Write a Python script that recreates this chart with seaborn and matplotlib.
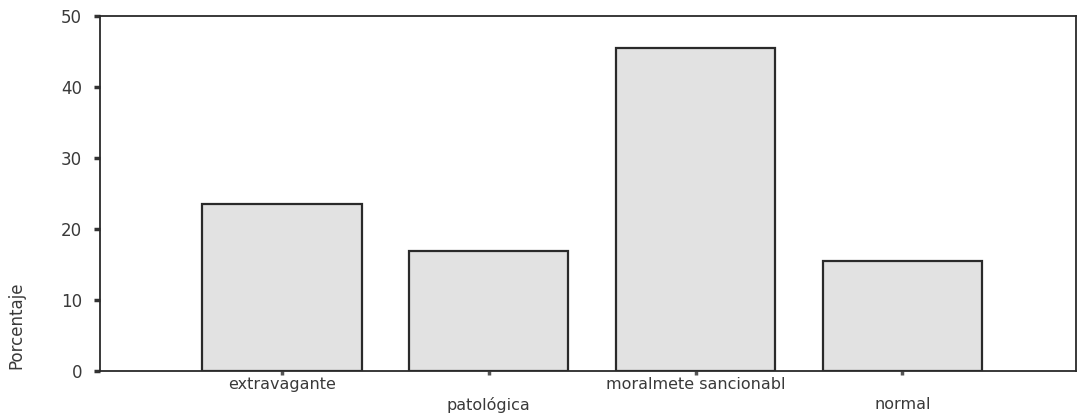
import matplotlib
matplotlib.use("Agg")
import matplotlib.pyplot as plt
import seaborn as sns
import pandas as pd

# data
categorias = ["extravagante", "patológica", "moralmete sancionabl", "normal"]
porcentaje = [23.5, 16.9, 45.4, 15.5]
yticks = [0, 10, 20, 30, 40, 50]

df = pd.DataFrame({"cat": categorias, "pct": porcentaje})

sns.set_style("white")
plt.rcParams['font.family'] = ['DejaVu Sans']
txt = "#3a3a3a"

fig = plt.figure(figsize=(10.77, 4.16), dpi=100)
ax = fig.add_axes([0.093, 0.108, 0.906, 0.854])

sns.barplot(data=df, x="cat", y="pct", color="#e2e2e2", edgecolor="#2a2a2a",
            linewidth=1.6, width=0.77, saturation=1, ax=ax)

ax.set_xlim(-0.88, 3.84)
ax.set_ylim(0, 50)
ax.set_yticks(yticks)
ax.set_yticklabels([str(v) for v in yticks], fontsize=12, color=txt)

# staggered category labels (every second one on a lower line)
labs = [c if i % 2 == 0 else "\n" + c for i, c in enumerate(categorias)]
ax.set_xticks(range(len(categorias)))
ax.set_xticklabels(labs, fontsize=11.5, color=txt)
for t in ax.get_xticklabels():
    t.set_linespacing(1.35)

ax.tick_params(axis="y", direction="out", length=4, width=2.5, pad=9, color="#333333", left=True)
ax.tick_params(axis="x", direction="out", length=3, width=2.5, pad=1.5, color="#555555", bottom=True)

for s in ax.spines.values():
    s.set_visible(True)
    s.set_color("#2a2a2a")
    s.set_linewidth(1.3)

ax.set_xlabel("")
ax.set_ylabel("Porcentaje", fontsize=12, color=txt)
ax.yaxis.set_label_coords(-0.077, 0.13)

fig.savefig("out.png", dpi=100)
